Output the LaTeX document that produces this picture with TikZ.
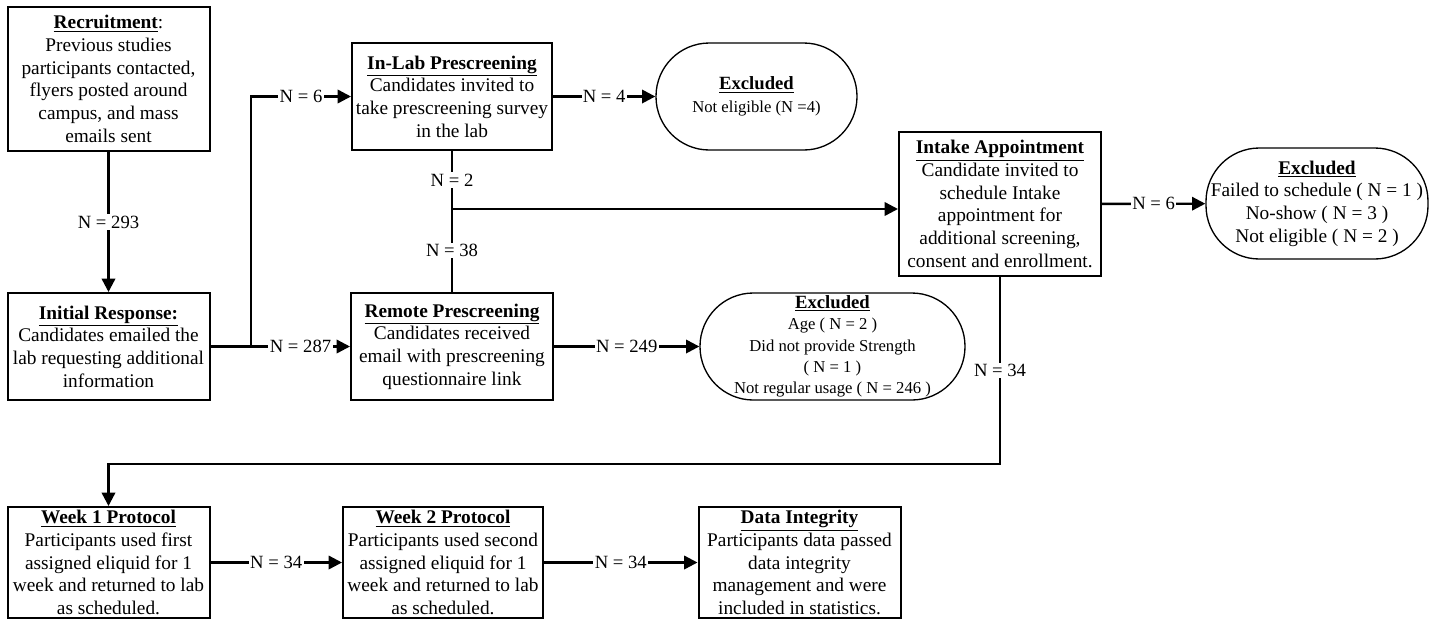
\documentclass[tikz,border=0pt]{standalone}
\usepackage{fontspec}
\setmainfont{Liberation Serif}
\usetikzlibrary{arrows.meta}

\begin{document}
\begin{tikzpicture}[x=0.75pt,y=-0.75pt,
    box/.style={draw,line width=1.5pt,align=center,inner sep=1pt,minimum width=151.5pt,font=\fontsize{14.5}{17}\selectfont},
    excl/.style={draw,line width=1pt,rounded corners=40pt,align=center,inner sep=1pt,font=\fontsize{12.5}{16}\selectfont},
    flow/.style={line width=1.8pt,-{Triangle[length=10pt,width=10pt]}},
    link/.style={line width=1.8pt},
    count/.style={fill=white,inner sep=1pt,font=\fontsize{14}{16.8}\selectfont}]
\useasboundingbox (0,0) rectangle (1445,619);
        \coordinate (split) at (251,346.5);
        \coordinate (merge) at (452,209);
        \coordinate (turn) at (1000,464);
\node[box,minimum height=108pt] (rec) at (108.5,79) {\underline{\textbf{Recruitment}}:\\Previous studies\\participants contacted,\\flyers posted around\\campus, and mass\\emails sent};
\node[box,minimum height=80.25pt] (resp) at (108.5,346.5) {\underline{\textbf{Initial Response:}}\\Candidates emailed the\\lab requesting additional\\information};
\node[box,minimum width=150pt,minimum height=80.25pt] (inlab) at (452,96.5) {\underline{\textbf{In-Lab Prescreening}}\\Candidates invited to\\take prescreening survey\\in the lab};
\node[box,minimum height=80.25pt] (remote) at (452,346.5) {\underline{\textbf{Remote Prescreening}}\\Candidates received\\email with prescreening\\questionnaire link};
\node[excl,minimum width=150.75pt,minimum height=80.25pt] (excl1) at (756.5,96.5) {{\fontsize{14}{17}\selectfont\underline{\textbf{Excluded}}}\\[1pt]Not eligible (N =4)};
\node[excl,minimum width=198.75pt,minimum height=80.25pt] (excl2) at (832.5,346.5) {{\fontsize{14}{17}\selectfont\underline{\textbf{Excluded}}}\\Age ( N = 2 )\\Did not provide Strength\\( N = 1 )\\Not regular usage ( N = 246 )};
\node[box,minimum height=108pt] (intake) at (1000,204) {\underline{\textbf{Intake Appointment}}\\Candidate invited to\\schedule Intake\\appointment for\\additional screening,\\consent and enrollment.};
\node[excl,font=\fontsize{14.5}{17}\selectfont,minimum width=166.5pt,minimum height=83.25pt] (excl3) at (1317,203.5) {\underline{\textbf{Excluded}}\\Failed to schedule ( N = 1 )\\No-show ( N = 3 )\\Not eligible ( N = 2 )};
\node[box,minimum height=83.25pt] (week1) at (108.5,562.5) {\underline{\textbf{Week 1 Protocol}}\\Participants used first\\assigned eliquid for 1\\week and returned to lab\\as scheduled.};
\node[box,minimum width=150pt,minimum height=83.25pt] (week2) at (443,562.5) {\underline{\textbf{Week 2 Protocol}}\\Participants used second\\assigned eliquid for 1\\week and returned to lab\\as scheduled.};
\node[box,minimum height=83.25pt] (integ) at (799.5,562.5) {\underline{\textbf{Data Integrity}}\\Participants data passed\\data integrity\\management and were\\included in statistics.};
\draw[flow] (rec) -- node[count]{N = 293} (resp);
\draw[link] (resp.east) -- (split);
\draw[flow] (split) |- node[count,pos=0.75]{N = 6} (inlab.west);
\draw[flow] (split) -- node[count]{N = 287} (remote.west);
\draw[flow] (inlab) -- node[count]{N = 4} (excl1);
\draw[link] (inlab) -- node[count]{N = 2} (merge);
\draw[link] (remote) -- node[count]{N = 38} (merge);
\draw[flow] (merge) -- (merge -| intake.west);
\draw[flow] (remote) -- node[count]{N = 249} (excl2);
\draw[flow] (intake) -- node[count]{N = 6} (excl3);
\draw[flow] (intake) -- node[count]{N = 34} (turn) -| (week1);
\draw[flow] (week1) -- node[count]{N = 34} (week2);
\draw[flow] (week2) -- node[count]{N = 34} (integ);
\end{tikzpicture}
\end{document}
